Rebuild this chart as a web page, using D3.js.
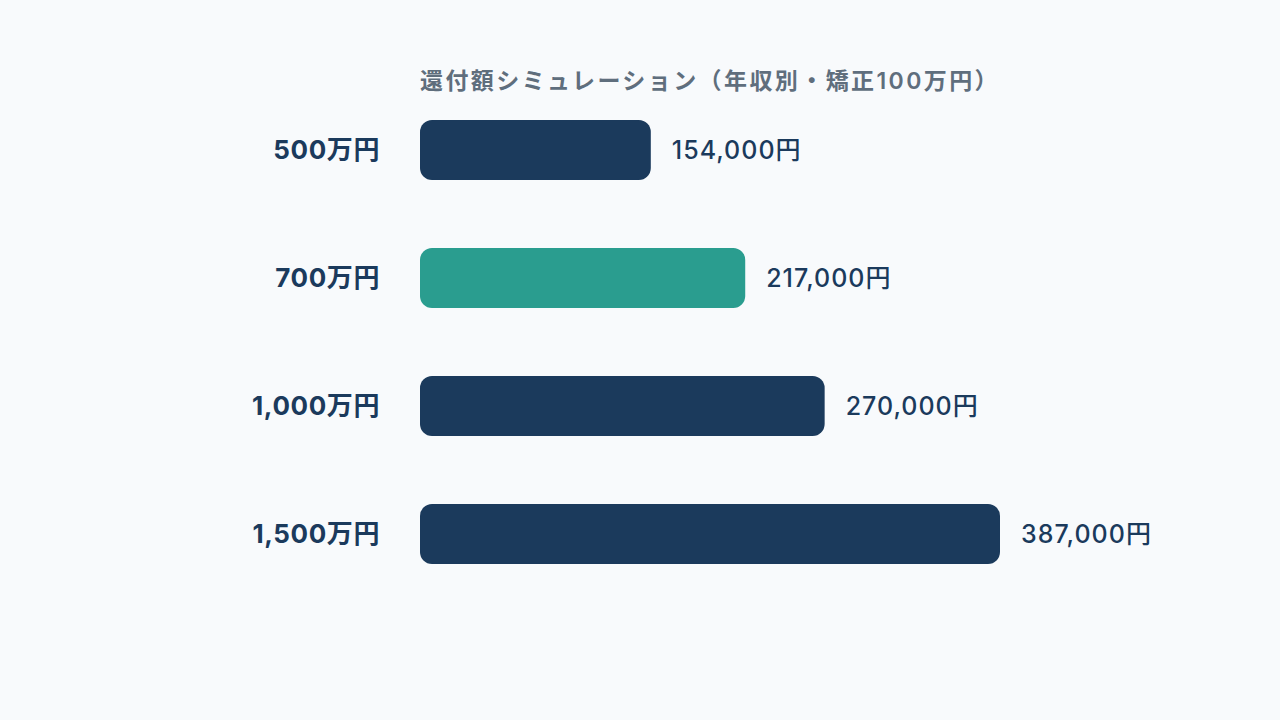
<!DOCTYPE html>
<html><head><meta charset="utf-8">
<script src="https://cdn.jsdelivr.net/npm/d3@7"></script>
<style>html,body{margin:0;padding:0;background:#f8fafc;}svg{display:block;}</style>
</head><body>
<script>
const categories = ["500万円", "700万円", "1,000万円", "1,500万円"];
const values = [154000, 217000, 270000, 387000];
const highlight = [false, true, false, false];
const title = "還付額シミュレーション（年収別・矯正100万円）";

const W = 1280, H = 720;
const font = "Inter, 'Noto Sans CJK JP', sans-serif";
const svg = d3.select("body").append("svg").attr("width", W).attr("height", H);
svg.append("rect").attr("width", W).attr("height", H).attr("fill", "#f8fafc");

const x = d3.scaleLinear().domain([0, 387000]).range([420, 1000]);
const y = d3.scaleBand().domain(categories).range([86, 598]).paddingInner(0.53).paddingOuter(0.265);

const t = svg.append("text").attr("x", 420).attr("y", 89).attr("font-family", font)
  .attr("font-size", 23).attr("font-weight", 600).attr("fill", "#5f6e7d").text(title);
const tw = t.node().getComputedTextLength();
t.attr("letter-spacing", ((580 - tw) / title.length).toFixed(2));

const g = svg.selectAll("g.row").data(categories).enter().append("g");
g.append("rect")
  .attr("x", x(0)).attr("y", d => y(d))
  .attr("width", (d, i) => x(values[i]) - x(0)).attr("height", y.bandwidth())
  .attr("rx", 12).attr("ry", 12)
  .attr("fill", (d, i) => highlight[i] ? "#2a9d8f" : "#1b3a5c");
g.append("text").attr("x", 380).attr("y", d => y(d) + y.bandwidth() / 2)
  .attr("dy", "0.36em").attr("text-anchor", "end").attr("font-family", font)
  .attr("font-size", 26).attr("font-weight", 700).attr("letter-spacing", 0.6)
  .attr("fill", "#1b3a5c").text(d => d);
g.append("text").attr("x", (d, i) => x(values[i]) + 21).attr("y", d => y(d) + y.bandwidth() / 2)
  .attr("dy", "0.36em").attr("font-family", font)
  .attr("font-size", 25).attr("font-weight", 500).attr("letter-spacing", 1)
  .attr("fill", "#1b3a5c")
  .text((d, i) => d3.format(",")(values[i]) + "円");
</script>
</body></html>
